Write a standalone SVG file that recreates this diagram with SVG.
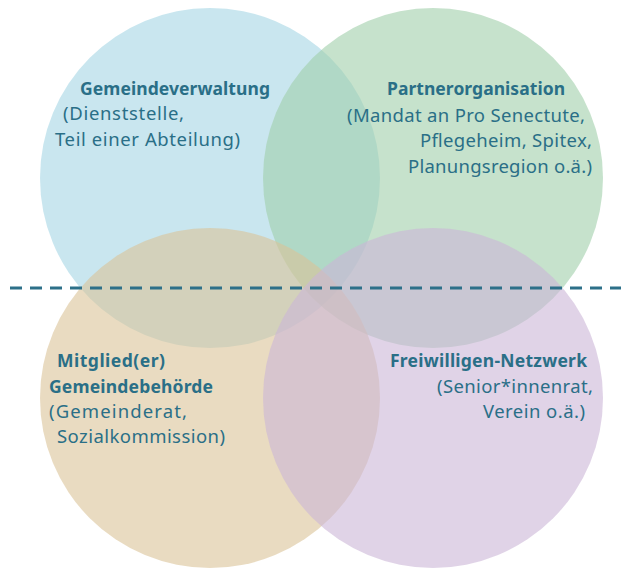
<svg xmlns="http://www.w3.org/2000/svg" width="621" height="570" viewBox="0 0 621 570">
<style>
.c{fill-opacity:0.6;stroke:none}
.t{font-family:"Noto Sans","Open Sans","Liberation Sans",sans-serif;font-size:18.5px;fill:#2a6f87}
.b{font-weight:bold;font-size:17.5px}
.dash{stroke:#2d7089;stroke-width:3;stroke-dasharray:12 8;fill:none}
</style>
<rect width="621" height="570" fill="#ffffff"/>
<g id="gemeindeverwaltung">
<circle class="c" cx="210" cy="178" r="170" fill="#a5d5e4"/>
<text class="t b" x="80" y="95" textLength="190">Gemeindeverwaltung</text>
<text class="t" x="63" y="120" textLength="121">(Dienststelle,</text>
<text class="t" x="55" y="146" textLength="185">Teil einer Abteilung)</text>
</g>
<g id="partnerorganisation">
<circle class="c" cx="433" cy="178" r="170" fill="#a0cfaa"/>
<text class="t b" x="387" y="95" textLength="178">Partnerorganisation</text>
<text class="t" x="347" y="122" textLength="238">(Mandat an Pro Senectute,</text>
<text class="t" x="420" y="147" textLength="172">Pflegeheim, Spitex,</text>
<text class="t" x="408" y="173" textLength="184">Planungsregion o.ä.)</text>
</g>
<g id="gemeindebehoerde">
<circle class="c" cx="210" cy="398" r="170" fill="#dac398"/>
<text class="t b" x="57" y="367" textLength="108">Mitglied(er)</text>
<text class="t b" x="49" y="393" textLength="164">Gemeindebehörde</text>
<text class="t" x="49" y="418" textLength="138">(Gemeinderat,</text>
<text class="t" x="57" y="443" textLength="168">Sozialkommission)</text>
</g>
<g id="freiwilligen-netzwerk">
<circle class="c" cx="433" cy="398" r="170" fill="#cbb6d7"/>
<text class="t b" x="390" y="367" textLength="197">Freiwilligen-Netzwerk</text>
<text class="t" x="437" y="393" textLength="156">(Senior*innenrat,</text>
<text class="t" x="483" y="418" textLength="102">Verein o.ä.)</text>
</g>
<g id="connectors">
<line class="dash" x1="10" y1="288" x2="621" y2="288"/>
</g>
</svg>
